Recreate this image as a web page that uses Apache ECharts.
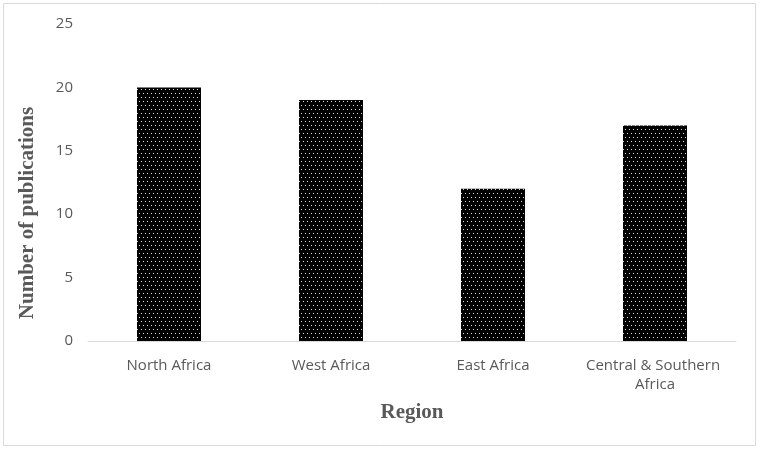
<!DOCTYPE html>
<html lang="en">
<head>
    <meta charset="UTF-8">
    <script src="https://cdn.jsdelivr.net/npm/echarts@6/dist/echarts.min.js"></script>
    <style>
        html, body { margin: 0; padding: 0; background: #fff; }
        #chart { width: 761px; height: 449px; }
    </style>
</head>
<body>
<div id="chart"></div>
<script>
    var regions = ["North Africa", "West Africa", "East Africa", "Central & Southern Africa"];
    var publications = [20, 19, 12, 17];
    var yTicks = [0, 5, 10, 15, 20, 25];

    // dotted fill: black with small light dots in staggered rows
    var tile = document.createElement('canvas');
    tile.width = 8;
    tile.height = 8;
    var tc = tile.getContext('2d');
    tc.fillStyle = '#000';
    tc.fillRect(0, 0, 8, 8);
    tc.fillStyle = '#d8d8d8';
    tc.fillRect(1, 1, 1, 1);
    tc.fillRect(5, 1, 1, 1);
    tc.fillRect(3, 5, 1, 1);
    tc.fillRect(7, 5, 1, 1);

    var labelFont = '"Open Sans", "Liberation Sans", sans-serif';
    var titleFont = '"Liberation Serif", "Times New Roman", serif';

    var myChart = echarts.init(document.getElementById('chart'));
    var option = {
        animation: false,
        grid: { left: 88, right: 25, top: 24, bottom: 108 },
        graphic: [{
            type: 'rect',
            shape: { x: 3.5, y: 3.5, width: 752, height: 442 },
            style: { fill: 'none', stroke: '#d9d9d9', lineWidth: 1 },
            silent: true
        }, {
            // y axis title sits lower than the plot middle in the original
            type: 'text',
            x: 28,
            y: 213,
            rotation: Math.PI / 2,
            style: {
                text: 'Number of publications',
                font: 'bold 21px ' + titleFont,
                fill: '#595959',
                align: 'center',
                verticalAlign: 'middle'
            },
            silent: true
        }],
        xAxis: {
            type: 'category',
            data: regions,
            name: 'Region',
            nameLocation: 'middle',
            nameGap: 61,
            nameTextStyle: { fontFamily: titleFont, fontWeight: 'bold', fontSize: 21, color: '#595959' },
            axisLine: { lineStyle: { color: '#d9d9d9', width: 1 } },
            axisTick: { show: false },
            axisLabel: {
                color: '#595959', fontFamily: labelFont, fontSize: 15, margin: 15,
                width: 140, overflow: 'break', lineHeight: 19, interval: 0
            }
        },
        yAxis: {
            type: 'value',
            min: yTicks[0],
            max: yTicks[yTicks.length - 1],
            interval: yTicks[1] - yTicks[0],
            axisLine: { show: false },
            axisTick: { show: false },
            splitLine: { show: false },
            axisLabel: { color: '#595959', fontFamily: labelFont, fontSize: 15, margin: 15 }
        },
        series: [{
            type: 'bar',
            data: publications,
            barWidth: '39.5%',
            itemStyle: { color: { image: tile, repeat: 'repeat' } }
        }]
    };
    myChart.setOption(option);
</script>
</body>
</html>
